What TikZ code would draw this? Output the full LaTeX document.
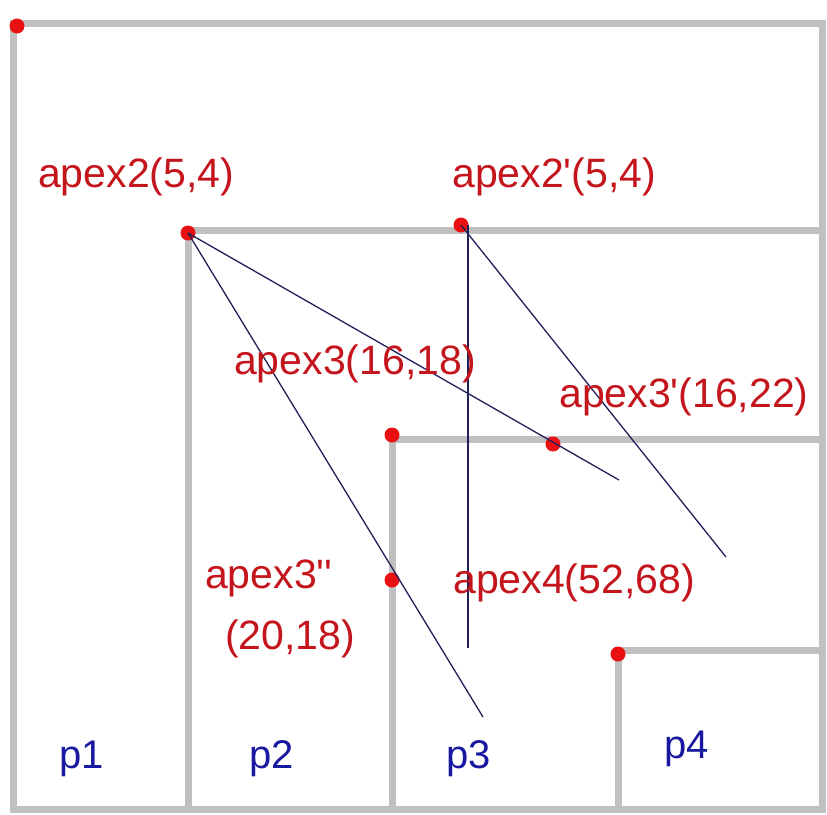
\documentclass[tikz,border=0pt]{standalone}
\usepackage{fontspec}
\setmainfont{Liberation Sans}[Ligatures=TeXOff]
\definecolor{wallgray}{HTML}{C0C0C0}
\definecolor{dotred}{HTML}{E81010}
\definecolor{lblred}{HTML}{C4141C}
\definecolor{lblblue}{HTML}{1818A0}
\definecolor{linenavy}{HTML}{20205A}
\begin{document}
\begin{tikzpicture}[x=1pt,y=-1pt,
  wall/.style={draw=wallgray,line width=7pt,line cap=butt},
  ray/.style={draw=linenavy,line width=1.3pt},
  apexdot/.style={circle,fill=dotred,inner sep=0pt,minimum size=15pt},
  redlbl/.style={text=lblred,inner sep=0pt,anchor=base west,font=\fontsize{41}{42}\selectfont},
  bluelbl/.style={text=lblblue,inner sep=0pt,anchor=base west,font=\fontsize{40}{42}\selectfont}]
\useasboundingbox (0,0) rectangle (827,814);
% walls
\draw[wall] (13,23) rectangle (822,809);
\draw[wall] (822,230) -- (188,230) -- (188,809);
\draw[wall] (822,439) -- (392,439) -- (392,809);
\draw[wall] (822,650) -- (618,650) -- (618,809);
% apex points
\node[apexdot] (a1) at (17,26) {};
\node[apexdot] (a2) at (188,233) {};
\node[apexdot] (a2p) at (461,225) {};
\node[apexdot] (a3) at (392,435) {};
\node[apexdot] (a3p) at (553,444) {};
\node[apexdot] (a3pp) at (392,580) {};
\node[apexdot] (a4) at (618,654) {};
% ray ends
\coordinate (e1) at (619,480);
\coordinate (e2) at (483,717);
\coordinate (e3) at (726,557);
\coordinate (v0) at (468,225);
\coordinate (v1) at (468,648);
\draw[ray] (a2.center) -- (e1);
\draw[ray] (a2.center) -- (e2);
\draw[ray] (a2p.center) -- (e3);
\draw[ray] (v0) -- (v1);
% labels
\node[redlbl] (l1) at (38,187) {apex2(5,4)};
\node[redlbl] (l2) at (452,187) {apex2'(5,4)};
\node[redlbl] (l3) at (234,374) {apex3(16,18)};
\node[redlbl] (l4) at (559,407) {apex3'(16,22)};
\node[redlbl] (l5) at (205,588) {apex3''};
\node[redlbl] (l6) at (225,649) {(20,18)};
\node[redlbl] (l7) at (453,593) {apex4(52,68)};
\node[bluelbl] (p1) at (59,768) {p1};
\node[bluelbl] (p2) at (249,768) {p2};
\node[bluelbl] (p3) at (446,768) {p3};
\node[bluelbl] (p4) at (664,758) {p4};
\end{tikzpicture}
\end{document}
